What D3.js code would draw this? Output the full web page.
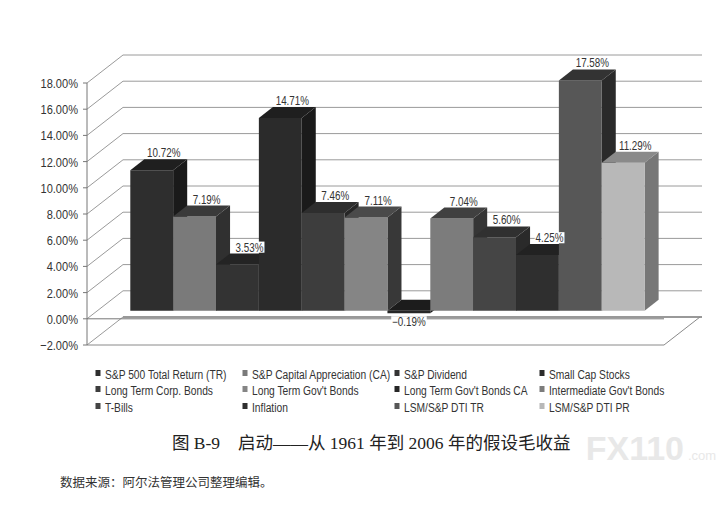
<!DOCTYPE html>
<html>
<head>
<meta charset="utf-8">
<script src="https://cdn.jsdelivr.net/npm/d3@7"></script>
<style>
  body { margin: 0; background: #fff; }
  .narrow { font-family: "Liberation Sans", Arial, sans-serif; }
</style>
</head>
<body>
<div id="chart"></div>
<script>
// series (one category, twelve series)
var series = [
  "S&P 500 Total Return (TR)", "S&P Capital Appreciation (CA)", "S&P Dividend", "Small Cap Stocks",
  "Long Term Corp. Bonds", "Long Term Gov't Bonds", "Long Term Gov't Bonds CA", "Intermediate Gov't Bonds",
  "T-Bills", "Inflation", "LSM/S&P DTI TR", "LSM/S&P DTI PR"
]
var values = [10.72, 7.19, 3.53, 14.71, 7.46, 7.11, -0.19, 7.04, 5.60, 4.25, 17.58, 11.29]
var yTicks = [-2, 0, 2, 4, 6, 8, 10, 12, 14, 16, 18]

// grey print palette: front, top, side
var frontColors = ["#2e2e2e", "#7a7a7a", "#333333", "#2b2b2b", "#3d3d3d", "#858585",
                   "#262626", "#7c7c7c", "#454545", "#2f2f2f", "#575757", "#b8b8b8"]
var topColors   = ["#1f1f1f", "#3a3a3a", "#242424", "#1f1f1f", "#2e2e2e", "#4a4a4a",
                   "#1c1c1c", "#404040", "#303030", "#222222", "#333333", "#8a8a8a"]
var sideColors  = ["#1a1a1a", "#303030", "#1e1e1e", "#1a1a1a", "#262626", "#383838",
                   "#181818", "#353535", "#2a2a2a", "#1c1c1c", "#2a2a2a", "#777777"]

var width = 728, height = 507
var DX = 36, DY = 28          // full depth offset of the plot box
var d0 = 0.29, d1 = 0.68      // depth range the bars occupy
var SQ = 0.82                 // horizontal squeeze, stands in for Arial Narrow

var svg = d3.select("#chart").append("svg")
  .attr("width", width).attr("height", height)

var y = d3.scaleLinear().domain([-2, 18]).range([345, 83])
var x = d3.scaleBand().domain(series).range([89, 665]).paddingOuter(0.72).paddingInner(0)

function P(px, v, d) { return [px + DX * d, y(v) - DY * d] }
function poly(pts) { return pts.map(p => p.join(",")).join(" ") }
function ctext(g, tx, ty, str, size, anchor) {
  return g.append("text")
    .attr("transform", "translate(" + tx + "," + ty + ") scale(" + SQ + ",1)")
    .attr("text-anchor", anchor || "start")
    .attr("font-size", size).attr("fill", "#333")
    .text(str)
}
function pct(v) { return (v < 0 ? "\u2212" + Math.abs(v).toFixed(2) : v.toFixed(2)) + "%" }

var grid = svg.append("g").attr("fill", "none").attr("stroke", "#9a9a9a").attr("stroke-width", 1)

// back wall lines
grid.selectAll("line.back").data(yTicks).enter().append("line")
  .attr("x1", P(87, 0, 1)[0]).attr("x2", 702)
  .attr("y1", d => P(0, d, 1)[1]).attr("y2", d => P(0, d, 1)[1])
  .attr("stroke", d => d === -2 ? "#777" : "#9a9a9a")
  .attr("stroke-width", d => d === -2 ? 1.5 : 1)

// side wall diagonals
grid.selectAll("line.side").data(yTicks).enter().append("line")
  .attr("x1", 87).attr("y1", d => y(d))
  .attr("x2", P(87, 0, 1)[0]).attr("y2", d => P(0, d, 1)[1])

// floor
var fl = [P(87, -2, 0), P(664, -2, 0), P(664, -2, 1)]
grid.append("polyline").attr("points", poly(fl)).attr("stroke", "#8a8a8a")

// front axis + ticks
grid.append("line").attr("x1", 87).attr("x2", 87).attr("y1", y(18)).attr("y2", y(-2)).attr("stroke", "#777")
grid.selectAll("line.tick").data(yTicks).enter().append("line")
  .attr("x1", 83).attr("x2", 87).attr("y1", d => y(d)).attr("y2", d => y(d)).attr("stroke", "#777")
grid.append("line").attr("x1", 87).attr("x2", 664).attr("y1", y(0)).attr("y2", y(0)).attr("stroke", "#777")

var yl = svg.append("g").attr("class", "narrow")
yTicks.forEach(function (t) { ctext(yl, 78, y(t) + 5, pct(t), 13.5, "end") })

// bars, drawn left to right so each one hides its left neighbour's side face
var bars = svg.append("g")
series.forEach(function (s, i) {
  var v = values[i]
  var xl = x(s), xr = x(s) + x.bandwidth()
  var hi = Math.max(v, 0), lo = Math.min(v, 0)
  var g = bars.append("g")
  g.append("polygon").attr("fill", sideColors[i])
    .attr("points", poly([P(xr, hi, d0), P(xr, hi, d1), P(xr, lo, d1), P(xr, lo, d0)]))
  g.append("polygon").attr("fill", frontColors[i])
    .attr("points", poly([P(xl, hi, d0), P(xr, hi, d0), P(xr, lo, d0), P(xl, lo, d0)]))
  g.append("polygon").attr("fill", topColors[i])
    .attr("points", poly([P(xl, hi, d0), P(xr, hi, d0), P(xr, hi, d1), P(xl, hi, d1)]))
})

// data labels with white boxes
var labels = svg.append("g").attr("class", "narrow")
series.forEach(function (s, i) {
  var v = values[i]
  var cx = x(s) + x.bandwidth() / 2
  var pos = v >= 0 ? P(cx, v, d1) : P(cx, v, d0)
  var ty = v >= 0 ? pos[1] - 2 : pos[1] + 13
  var tx = v >= 0 ? pos[0] - 2 : pos[0]
  var box = labels.append("rect").attr("fill", "#fff")
  var t = ctext(labels, tx, ty, pct(v), 12, "middle")
  var b = t.node().getBBox()
  box.attr("x", tx + (b.x - 1) * SQ).attr("y", ty + b.y + 1)
    .attr("width", (b.width + 2) * SQ).attr("height", b.height - 2)
})

// legend, 4 columns x 3 rows
var legX = [98, 245, 397, 542], legY = [377, 393, 410]
var legend = svg.append("g").attr("class", "narrow")
series.forEach(function (s, i) {
  var cx = legX[i % 4], cy = legY[Math.floor(i / 4)]
  legend.append("rect").attr("x", cx - 2.5).attr("y", cy - 7).attr("width", 5).attr("height", 6)
    .attr("fill", frontColors[i])
  ctext(legend, cx + 7, cy + 1.5, s, 12.5)
})

// caption
var cap = svg.append("g").attr("font-size", 17.5).attr("fill", "#222")
  .attr("font-family", "'Liberation Serif', 'Noto Sans CJK SC', serif")
cap.append("text").attr("x", 172).attr("y", 449).text("图 B-9")
cap.append("text").attr("x", 238).attr("y", 449).text("启动——从 1961 年到 2006 年的假设毛收益")

svg.append("text").attr("x", 60).attr("y", 487)
  .attr("font-family", "'Noto Sans CJK SC', sans-serif")
  .attr("font-size", 12.5).attr("fill", "#333")
  .text("数据来源：阿尔法管理公司整理编辑。")

// watermark
svg.append("text").attr("x", 684).attr("y", 460).attr("text-anchor", "end")
  .attr("font-family", "'Liberation Sans', sans-serif").attr("font-weight", "bold")
  .attr("font-size", 34).attr("fill", "#e8e8e8").text("FX110")
svg.append("text").attr("x", 688).attr("y", 460)
  .attr("font-family", "'Liberation Sans', sans-serif")
  .attr("font-size", 13).attr("fill", "#e8e8e8").text(".com")
</script>
</body>
</html>
